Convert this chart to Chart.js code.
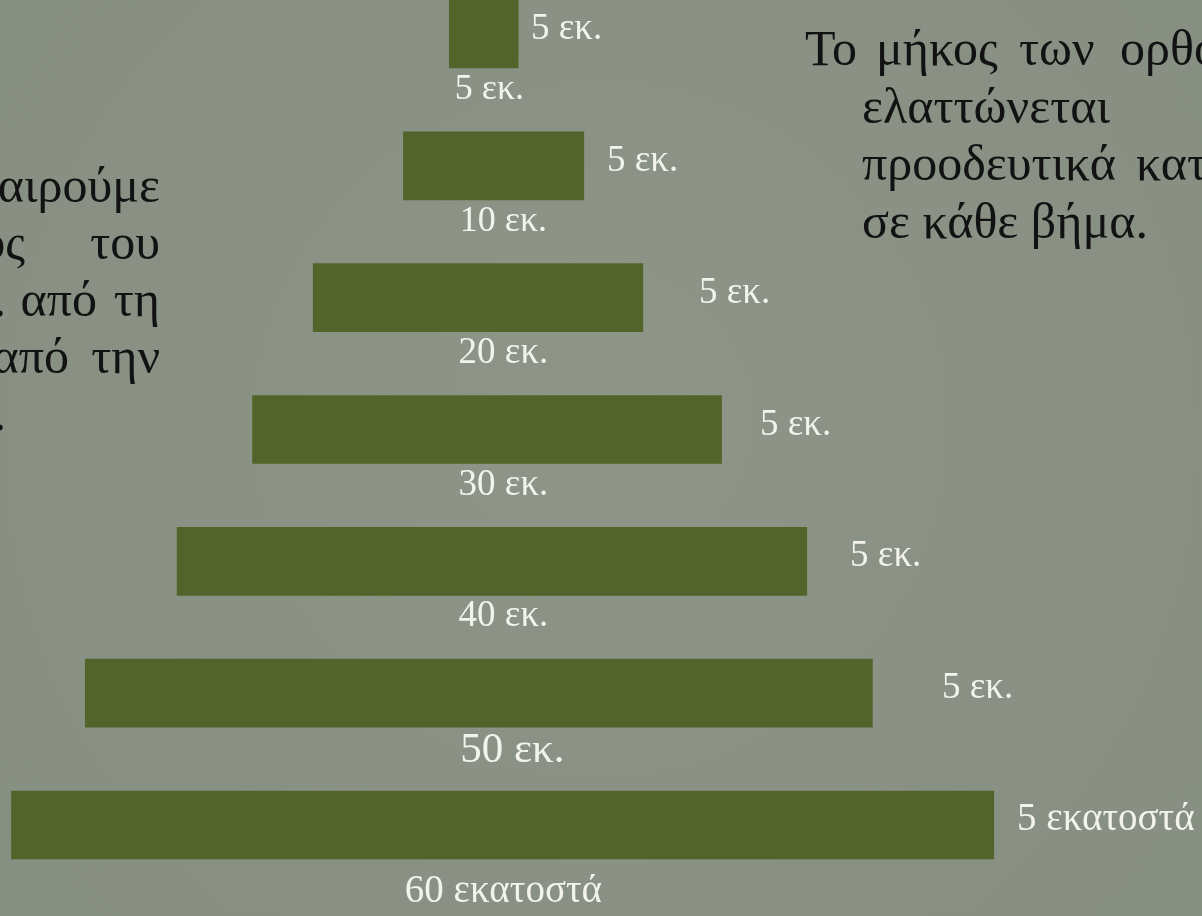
<!DOCTYPE html>
<html lang="el">
<head>
<meta charset="utf-8">
<title>Πυραμίδα ορθογωνίων</title>
<script src="https://cdn.jsdelivr.net/npm/chart.js@4.4.1/dist/chart.umd.min.js"></script>
<style>
  html, body { margin: 0; padding: 0; background: #8a9285; overflow: hidden; }
  #wrap { width: 1202px; height: 916px; position: relative; }
</style>
</head>
<body>
<div id="wrap"><canvas id="pyramid" width="1202" height="916"></canvas></div>
<script>
// --- DATA (εκατοστά) ---
const rows = ["r1", "r2", "r3", "r4", "r5", "r6", "r7"];
const lengthLabels = ["5 εκ.", "10 εκ.", "20 εκ.", "30 εκ.", "40 εκ.", "50 εκ.", "60 εκατοστά"];
const heightLabels = ["5 εκ.", "5 εκ.", "5 εκ.", "5 εκ.", "5 εκ.", "5 εκ.", "5 εκατοστά"];
const barStart = [-2.6, -5.4, -10.9, -14.6, -19.2, -24.8, -29.3];
const barEnd = [1.6, 5.6, 9.2, 14.0, 19.2, 23.2, 30.6];

// text of the slide
const leftLines = [
  [["αιρούμε", 160]],
  [["ος", 25], ["του", 160]],
  [[".", 6], ["από", 97], ["τη", 160]],
  [["από", 69], ["την", 160]],
  [[".", 6]]
];
const rightLines = [
  [["Το", 805], ["μήκος", 876], ["των", 1019], ["ορθογωνίων", 1120]],
  [["ελαττώνεται", 862]],
  [["προοδευτικά", 862], ["κατά", 1136]],
  [["σε κάθε βήμα.", 862]]
];

// --- STYLE ---
const FONT = '"Liberation Serif", "DejaVu Serif", serif';
const captionSize = [36, 36, 37, 37, 37, 43, 39];
const captionGap = [31, 31, 31, 31, 31, 35, 43];
const captionShift = [-14, 0, 0, 0, 0, 9, 0];
const heightLabelX = [2.38, 7.02, 12.63, 16.35, 21.84, 27.45, 32.02];

// --- PLUGINS ---
const slideBackground = {
  id: "slideBackground",
  beforeDraw(chart) {
    const { ctx, width, height } = chart;
    ctx.save();
    ctx.fillStyle = "#8a9285";
    ctx.fillRect(0, 0, width, height);
    const g = ctx.createRadialGradient(width * 0.5, height * 0.45, 50, width * 0.5, height * 0.5, width * 0.75);
    g.addColorStop(0, "rgba(150,156,142,0.3)");
    g.addColorStop(1, "rgba(120,128,116,0.2)");
    ctx.fillStyle = g;
    ctx.fillRect(0, 0, width, height);
    ctx.restore();
  }
};

const slideText = {
  id: "slideText",
  afterDatasetsDraw(chart) {
    const { ctx } = chart;
    const xs = chart.scales.x;
    const bars = chart.getDatasetMeta(0).data;
    ctx.save();
    ctx.fillStyle = "#f3f3ee";
    ctx.textBaseline = "alphabetic";

    bars.forEach((bar, i) => {
      const bottom = bar.y + bar.height / 2;
      // length under the bar
      ctx.font = captionSize[i] + "px " + FONT;
      ctx.textAlign = "center";
      ctx.fillText(lengthLabels[i], xs.getPixelForValue(0.7) + captionShift[i], bottom + captionGap[i]);
      // height to the right
      ctx.font = (i === 6 ? 39 : 37) + "px " + FONT;
      ctx.textAlign = "left";
      ctx.fillText(heightLabels[i], xs.getPixelForValue(heightLabelX[i]), bar.y + 5);
    });

    ctx.fillStyle = "#121212";
    ctx.font = "50px " + FONT;
    ctx.textAlign = "right";
    leftLines.forEach((line, i) => {
      line.forEach(([w, x]) => ctx.fillText(w, x, 202 + i * 57));
    });
    ctx.textAlign = "left";
    rightLines.forEach((line, i) => {
      line.forEach(([w, x]) => ctx.fillText(w, x, 65 + i * 57.5));
    });
    ctx.restore();
  }
};

// --- CHART ---
new Chart(document.getElementById("pyramid"), {
  type: "bar",
  data: {
    labels: rows,
    datasets: [{
      data: rows.map((r, i) => [barStart[i], barEnd[i]]),
      backgroundColor: "#526429",
      borderWidth: 0,
      barThickness: 68,
      clip: false
    }]
  },
  options: {
    indexAxis: "y",
    responsive: false,
    animation: false,
    devicePixelRatio: 1,
    layout: { padding: { top: 34, bottom: 91, left: 0, right: 0 } },
    scales: {
      x: { type: "linear", min: -30, max: 43.3, display: false },
      y: { type: "category", offset: false, display: false }
    },
    plugins: { legend: { display: false }, tooltip: { enabled: false } }
  },
  plugins: [slideBackground, slideText]
});
</script>
</body>
</html>
